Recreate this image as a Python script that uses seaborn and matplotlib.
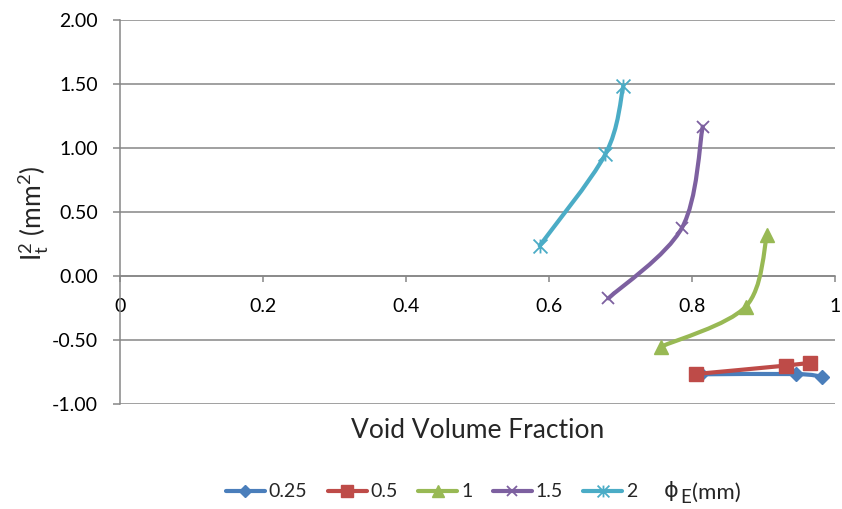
import numpy as np
import pandas as pd
import matplotlib
matplotlib.use("Agg")
import matplotlib.pyplot as plt
from matplotlib.path import Path
from matplotlib.patches import PathPatch
from matplotlib.lines import Line2D
import seaborn as sns

# Electrode diameter (mm) for each series
diameters = ["0.25", "0.5", "1", "1.5", "2"]

# Void volume fraction (x) and I_t^2 in mm^2 (y) per diameter
void_025 = [0.813, 0.945, 0.982]
it2_025 = [-0.768, -0.766, -0.787]

void_05 = [0.805, 0.931, 0.965]
it2_05 = [-0.766, -0.700, -0.677]

void_1 = [0.757, 0.875, 0.905]
it2_1 = [-0.552, -0.240, 0.320]

void_15 = [0.683, 0.786, 0.815]
it2_15 = [-0.175, 0.377, 1.167]

void_2 = [0.587, 0.679, 0.704]
it2_2 = [0.237, 0.953, 1.485]

x_ticks = [0, 0.2, 0.4, 0.6, 0.8, 1]
x_tick_labels = ["0", "0.2", "0.4", "0.6", "0.8", "1"]
y_ticks = [-1.0, -0.5, 0.0, 0.5, 1.0, 1.5, 2.0]

series_x = [void_025, void_05, void_1, void_15, void_2]
series_y = [it2_025, it2_05, it2_1, it2_15, it2_2]

colors = ["#4A7EBB", "#BE4B48", "#98B954", "#7D60A0", "#4BACC6"]

# asterisk marker: vertical bar plus an X
star = Path([(0, -1), (0, 1), (-1, -1), (1, 1), (-1, 1), (1, -1)],
            [Path.MOVETO, Path.LINETO] * 3)
markers = ["D", "s", "^", "x", star]
marker_sizes = [7.5, 9.5, 9.5, 9, 10]

frames = []
for d, xs, ys in zip(diameters, series_x, series_y):
    frames.append(pd.DataFrame({"void": xs, "it2": ys, "diam": d}))
df = pd.concat(frames, ignore_index=True)

sns.set_style("white")
plt.rcParams["font.family"] = ["Lato", "DejaVu Sans"]
plt.rcParams["mathtext.fontset"] = "custom"
plt.rcParams["mathtext.rm"] = "Lato"
plt.rcParams["mathtext.it"] = "Lato:italic"
plt.rcParams["mathtext.default"] = "regular"

fig = plt.figure(figsize=(8.42, 5.09), dpi=100)
ax = fig.add_axes([0.1425, 0.2063, 0.8492, 0.7544])

grid_color = "#868686"


def smooth_path(xs, ys):
    """Cubic Bezier path through the points (Catmull-Rom style tangents)."""
    pts = np.column_stack([xs, ys]).astype(float)
    n = len(pts)
    verts = [pts[0]]
    codes = [Path.MOVETO]
    for i in range(n - 1):
        p0 = pts[i - 1] if i > 0 else pts[i]
        p1 = pts[i]
        p2 = pts[i + 1]
        p3 = pts[i + 2] if i + 2 < n else pts[i + 1]
        verts += [p1 + (p2 - p0) / 6.0, p2 - (p3 - p1) / 6.0, p2]
        codes += [Path.CURVE4] * 3
    return Path(verts, codes)


for k, d in enumerate(diameters):
    sub = df[df["diam"] == d]
    ax.add_patch(PathPatch(smooth_path(sub["void"], sub["it2"]), facecolor="none",
                           edgecolor=colors[k], lw=3, capstyle="round",
                           joinstyle="round", zorder=3 + 2 * k))
    filled = k < 3
    sns.lineplot(data=sub, x="void", y="it2", sort=False, estimator=None, ax=ax,
                 color=colors[k], linestyle="none", marker=markers[k],
                 markersize=marker_sizes[k],
                 markerfacecolor=colors[k] if filled else "none",
                 markeredgecolor=colors[k], markeredgewidth=1.0 if filled else 1.3,
                 zorder=4 + 2 * k)

ax.set_xlim(0, 1)
ax.set_ylim(-1, 2)
ax.set_xticks(x_ticks)
ax.set_xticklabels(x_tick_labels)
ax.set_yticks(y_ticks)
ax.set_yticklabels([f"{v:.2f}" for v in y_ticks])
ax.set_xlabel("")
ax.set_ylabel("")

ax.yaxis.grid(True, color=grid_color, lw=1.1)
ax.xaxis.grid(False)
for s in ["top", "right"]:
    ax.spines[s].set_visible(False)
ax.spines["bottom"].set_position(("data", 0))
ax.spines["bottom"].set_color(grid_color)
ax.spines["left"].set_color(grid_color)
ax.spines["bottom"].set_linewidth(1.1)
ax.spines["left"].set_linewidth(1.1)
ax.spines["bottom"].set_zorder(2)

ax.tick_params(axis="x", direction="out", length=4, width=1.1, color=grid_color,
               pad=12, labelsize=14, labelcolor="black", bottom=True)
ax.tick_params(axis="y", direction="out", length=5, width=1.1, color=grid_color,
               pad=11, labelsize=14, labelcolor="black", left=True)

fig.text(0.567, 0.1395, "Void Volume Fraction", fontsize=19, ha="center",
         va="baseline")
fig.text(0.040, 0.5815, "I$_t^2$ (mm$^2$)", fontsize=19, rotation=90,
         ha="center", va="center", rotation_mode="anchor")

handles = [Line2D([], [], color=c, lw=3, marker=m, markersize=ms * 0.85,
                  markerfacecolor=c if i < 3 else "none", markeredgecolor=c,
                  markeredgewidth=1.0 if i < 3 else 1.3)
           for i, (c, m, ms) in enumerate(zip(colors, markers, marker_sizes))]
fig.legend(handles, diameters, loc="center", bbox_to_anchor=(0.5125, 0.0334),
           ncol=5, frameon=False, fontsize=14, handlelength=2.0,
           handletextpad=0.2, columnspacing=1.05, borderpad=0, borderaxespad=0)

# legend caption: phi with subscript E, then the unit
fig.text(664 / 842, 1 - 497 / 509, "\u03d5", family="DejaVu Sans", fontsize=16,
         ha="left", va="baseline")
fig.text(680 / 842, 1 - 503 / 509, "E", fontsize=13.5, ha="left", va="baseline")
fig.text(692 / 842, 1 - 499 / 509, "(mm)", fontsize=16, ha="left", va="baseline")

fig.savefig("out.png", dpi=100)
